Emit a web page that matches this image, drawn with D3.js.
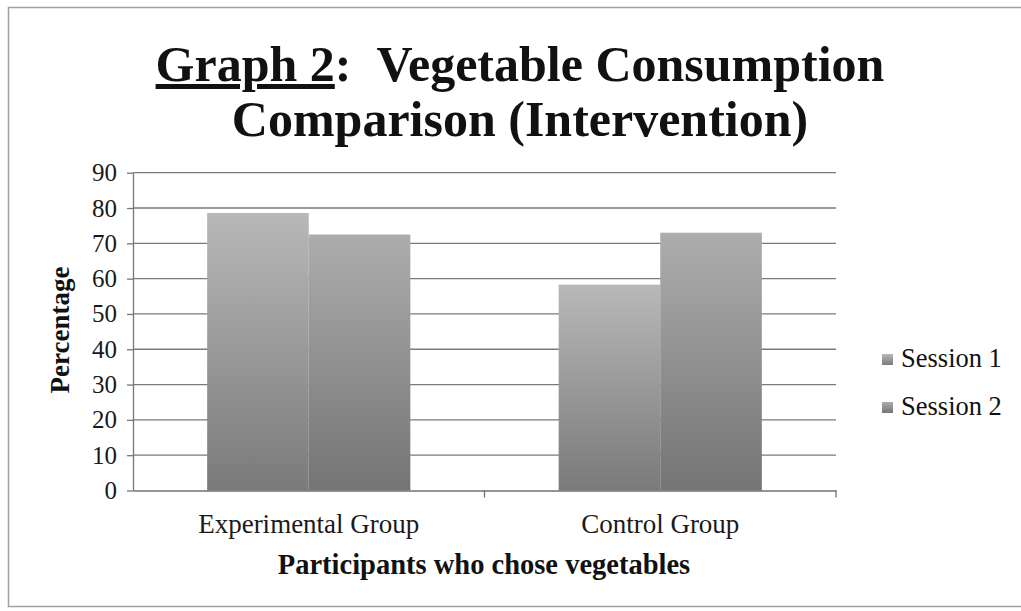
<!DOCTYPE html>
<html><head><meta charset="utf-8">
<script src="https://cdn.jsdelivr.net/npm/d3@7"></script>
<style>body{margin:0;background:#fff}svg{display:block}</style>
</head><body><svg id="c" width="1021" height="611"></svg>
<script>
const categories = ["Experimental Group", "Control Group"];
const seriesNames = ["Session 1", "Session 2"];
const session1 = [78.6, 58.3];
const session2 = [72.5, 73.0];
const yTicks = [0, 10, 20, 30, 40, 50, 60, 70, 80, 90];
const titleLines = ["Vegetable Consumption", "Comparison (Intervention)"];
const titlePrefix = "Graph 2";
const yLabel = "Percentage";
const xLabel = "Participants who chose vegetables";

const FONT = "'Liberation Serif', 'DejaVu Serif', serif";
const svg = d3.select("#c");
const W = 1021, H = 611;
const plot = {left: 133, right: 836, top: 172.7, bottom: 490.5};

// frame
svg.append("rect").attr("x", 8.5).attr("y", 7.5).attr("width", W + 10).attr("height", 599)
  .attr("fill", "#fff").attr("stroke", "#a0a0a0").attr("stroke-width", 1.5);

const defs = svg.append("defs");
const grads = [["#b8b8b8", "#7a7a7a"], ["#adadad", "#747474"]];
grads.forEach((g, i) => {
  const lg = defs.append("linearGradient").attr("id", "g" + i)
    .attr("x1", 0).attr("y1", 0).attr("x2", 0).attr("y2", 1);
  lg.append("stop").attr("offset", "0%").attr("stop-color", g[0]);
  lg.append("stop").attr("offset", "100%").attr("stop-color", g[1]);
});

const y = d3.scaleLinear().domain([0, 90]).range([plot.bottom, plot.top]);
const x0 = d3.scaleBand().domain(categories).range([plot.left, plot.right]).padding(0);
const x1 = d3.scaleBand().domain(seriesNames).range([0, x0.bandwidth()]).paddingInner(0).paddingOuter(0.73);

// gridlines
svg.append("g").selectAll("line").data(yTicks.filter(d => d > 0)).join("line")
  .attr("x1", plot.left).attr("x2", plot.right)
  .attr("y1", d => y(d)).attr("y2", d => y(d))
  .attr("stroke", "#7a7a7a").attr("stroke-width", 1.3);

// bars
const data = categories.map((c, i) => ({cat: c, vals: [session1[i], session2[i]]}));
const gBars = svg.append("g");
data.forEach(d => {
  d.vals.forEach((v, j) => {
    gBars.append("rect")
      .attr("x", x0(d.cat) + x1(seriesNames[j]))
      .attr("y", y(v))
      .attr("width", x1.bandwidth())
      .attr("height", y(0) - y(v))
      .attr("fill", `url(#g${j})`);
  });
});

// y axis
const yAxis = d3.axisLeft(y).tickValues(yTicks).tickSize(6).tickPadding(10).tickSizeOuter(0);
const ya = svg.append("g").attr("transform", `translate(${plot.left},0)`).call(yAxis);
ya.select(".domain").attr("stroke", "#777").attr("stroke-width", 1.3);
ya.selectAll(".tick line").attr("stroke", "#777").attr("stroke-width", 1.3);
ya.selectAll("text").attr("font-family", FONT).attr("font-size", 25).attr("fill", "#1a1a1a");

// x axis
const xAxis = d3.axisBottom(x0).tickSize(0).tickPadding(23);
const xa = svg.append("g").attr("transform", `translate(0,${plot.bottom})`).call(xAxis);
xa.select(".domain").attr("stroke", "#707070").attr("stroke-width", 1.3);
xa.selectAll("text").attr("font-family", FONT).attr("font-size", 27).attr("fill", "#1a1a1a");
// boundary ticks
const bounds = categories.map(c => x0(c) + x0.bandwidth());
svg.append("g").selectAll("line").data(bounds).join("line")
  .attr("x1", d => d).attr("x2", d => d)
  .attr("y1", plot.bottom).attr("y2", plot.bottom + 7)
  .attr("stroke", "#707070").attr("stroke-width", 1.3);

// title
const t = svg.append("text").attr("text-anchor", "middle").attr("font-family", FONT)
  .attr("font-weight", "bold").attr("font-size", 50).attr("fill", "#111");
const l1 = t.append("tspan").attr("x", 520).attr("y", 81);
l1.append("tspan").attr("text-decoration", "underline").text(titlePrefix);
l1.append("tspan").text(":\u00a0\u00a0" + titleLines[0]);
t.append("tspan").attr("x", 520).attr("y", 136).text(titleLines[1]);

// y label
svg.append("text").attr("transform", "translate(69,330) rotate(-90)")
  .attr("text-anchor", "middle").attr("font-family", FONT).attr("font-weight", "bold")
  .attr("font-size", 27).attr("fill", "#111").text(yLabel);

// x label
svg.append("text").attr("x", 484).attr("y", 574).attr("text-anchor", "middle")
  .attr("font-family", FONT).attr("font-weight", "bold").attr("font-size", 28.5)
  .attr("fill", "#111").text(xLabel);

// legend
const lg = svg.append("g");
seriesNames.forEach((s, i) => {
  const yy = 359 + i * 48;
  lg.append("rect").attr("x", 882).attr("y", yy - 5).attr("width", 11).attr("height", 11)
    .attr("fill", `url(#g${i})`);
  lg.append("text").attr("x", 901).attr("y", yy + 8).attr("font-family", FONT)
    .attr("font-size", 26.5).attr("fill", "#111").text(s);
});
</script></body></html>
